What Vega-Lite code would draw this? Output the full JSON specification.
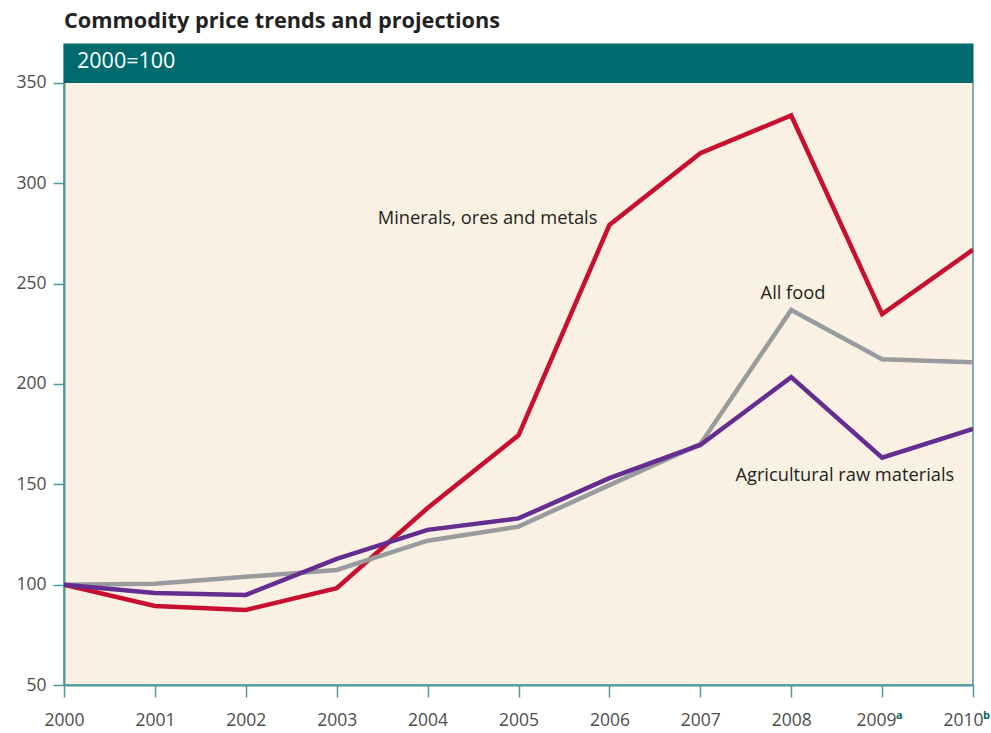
{
  "$schema": "https://vega.github.io/schema/vega-lite/v6.json",
  "width": 909,
  "height": 641,
  "autosize": {"type": "none"},
  "padding": {"left": 64, "top": 44, "right": 18, "bottom": 48},
  "background": "white",
  "config": {
    "font": "Open Sans",
    "view": {"fill": "#FAF1E4", "stroke": "#4A9A9B", "strokeWidth": 1.5},
    "axis": {"grid": false, "domainColor": "#4A9A9B", "domainWidth": 2, "tickColor": "#4A9A9B", "tickWidth": 1.5, "labelColor": "#4D4D4D", "labelFont": "Open Sans", "labelFontSize": 17.5, "title": null}
  },
  "title": {"text": "Commodity price trends and projections", "anchor": "start", "frame": "group", "fontSize": 21.7, "fontWeight": "bold", "color": "#222222", "font": "Open Sans", "offset": 11},
  "datasets": {
    "series": [
      {"year": 2000, "series": "Minerals, ores and metals", "value": 100},
      {"year": 2001, "series": "Minerals, ores and metals", "value": 89.4},
      {"year": 2002, "series": "Minerals, ores and metals", "value": 87.4},
      {"year": 2003, "series": "Minerals, ores and metals", "value": 98.2},
      {"year": 2004, "series": "Minerals, ores and metals", "value": 138.2},
      {"year": 2005, "series": "Minerals, ores and metals", "value": 174.4},
      {"year": 2006, "series": "Minerals, ores and metals", "value": 279.2},
      {"year": 2007, "series": "Minerals, ores and metals", "value": 315},
      {"year": 2008, "series": "Minerals, ores and metals", "value": 333.8},
      {"year": 2009, "series": "Minerals, ores and metals", "value": 234.8},
      {"year": 2010, "series": "Minerals, ores and metals", "value": 266.9},
      {"year": 2000, "series": "All food", "value": 100},
      {"year": 2001, "series": "All food", "value": 100.4},
      {"year": 2002, "series": "All food", "value": 103.9},
      {"year": 2003, "series": "All food", "value": 107.3},
      {"year": 2004, "series": "All food", "value": 121.9},
      {"year": 2005, "series": "All food", "value": 128.9},
      {"year": 2006, "series": "All food", "value": 149.6},
      {"year": 2007, "series": "All food", "value": 170},
      {"year": 2008, "series": "All food", "value": 236.9},
      {"year": 2009, "series": "All food", "value": 212.3},
      {"year": 2010, "series": "All food", "value": 210.8},
      {"year": 2000, "series": "Agricultural raw materials", "value": 100},
      {"year": 2001, "series": "Agricultural raw materials", "value": 95.9},
      {"year": 2002, "series": "Agricultural raw materials", "value": 94.9},
      {"year": 2003, "series": "Agricultural raw materials", "value": 112.8},
      {"year": 2004, "series": "Agricultural raw materials", "value": 127.3},
      {"year": 2005, "series": "Agricultural raw materials", "value": 133},
      {"year": 2006, "series": "Agricultural raw materials", "value": 153.1},
      {"year": 2007, "series": "Agricultural raw materials", "value": 169.6},
      {"year": 2008, "series": "Agricultural raw materials", "value": 203.4},
      {"year": 2009, "series": "Agricultural raw materials", "value": 163.3},
      {"year": 2010, "series": "Agricultural raw materials", "value": 177.6}
    ],
    "labels": [
      {"label": "Minerals, ores and metals", "year": 2004.66, "value": 282.2},
      {"label": "All food", "year": 2008.02, "value": 244.9},
      {"label": "Agricultural raw materials", "year": 2008.59, "value": 154.2}
    ],
    "band": [
      {"x1": 2000, "x2": 2010, "y1": 350, "y2": 369.4, "text": "2000=100"}
    ],
    "notes": [
      {"year": 2009, "note": "a"},
      {"year": 2010, "note": "b"}
    ]
  },
  "layer": [
    {
      "data": {"name": "series"},
      "mark": {"type": "line", "strokeWidth": 4.5, "strokeJoin": "miter", "clip": true},
      "encoding": {
        "x": {"field": "year", "type": "quantitative", "scale": {"domain": [2000, 2010], "nice": false, "zero": false},
              "axis": {"values": [2000, 2001, 2002, 2003, 2004, 2005, 2006, 2007, 2008, 2009, 2010], "format": "d", "tickSize": 12, "labelPadding": 14, "labelFlush": false,
                       "labelOffset": {"condition": [{"test": "datum.value === 2009", "value": -6}, {"test": "datum.value === 2010", "value": -10}], "value": 0}}},
        "y": {"field": "value", "type": "quantitative", "scale": {"domain": [50, 369.4], "nice": false, "zero": false},
              "axis": {"values": [50, 100, 150, 200, 250, 300, 350], "tickSize": 11, "labelPadding": 7, "labelFlush": false}},
        "color": {"field": "series", "type": "nominal", "legend": null,
                  "scale": {"domain": ["Minerals, ores and metals", "All food", "Agricultural raw materials"], "range": ["#C8102E", "#9A9B9F", "#662D91"]}}
      }
    },
    {
      "data": {"name": "labels"},
      "mark": {"type": "text", "fontSize": 18.3, "color": "#231F20", "align": "center", "baseline": "middle", "font": "Open Sans"},
      "encoding": {
        "x": {"field": "year", "type": "quantitative"},
        "y": {"field": "value", "type": "quantitative"},
        "text": {"field": "label"}
      }
    },
    {
      "data": {"name": "band"},
      "mark": {"type": "rect", "color": "#006B6E"},
      "encoding": {
        "x": {"field": "x1", "type": "quantitative"},
        "x2": {"field": "x2"},
        "y": {"field": "y1", "type": "quantitative"},
        "y2": {"field": "y2"}
      }
    },
    {
      "data": {"name": "band"},
      "mark": {"type": "text", "color": "white", "fontSize": 21.5, "align": "left", "baseline": "middle", "dx": 13, "font": "Open Sans"},
      "encoding": {
        "x": {"field": "x1", "type": "quantitative"},
        "y": {"field": "y1", "type": "quantitative"},
        "yOffset": {"value": -21},
        "text": {"field": "text"}
      }
    },
    {
      "data": {"name": "notes"},
      "transform": [{"filter": "datum.note === 'a'"}],
      "mark": {"type": "text", "color": "#006B6E", "fontSize": 11, "fontWeight": "bold", "align": "left", "baseline": "middle", "dx": 14, "dy": 31, "font": "Open Sans"},
      "encoding": {
        "x": {"field": "year", "type": "quantitative"},
        "y": {"datum": 50, "type": "quantitative"},
        "text": {"field": "note"}
      }
    },
    {
      "data": {"name": "notes"},
      "transform": [{"filter": "datum.note === 'b'"}],
      "mark": {"type": "text", "color": "#006B6E", "fontSize": 11, "fontWeight": "bold", "align": "left", "baseline": "middle", "dx": 10, "dy": 31, "font": "Open Sans"},
      "encoding": {
        "x": {"field": "year", "type": "quantitative"},
        "y": {"datum": 50, "type": "quantitative"},
        "text": {"field": "note"}
      }
    }
  ]
}
